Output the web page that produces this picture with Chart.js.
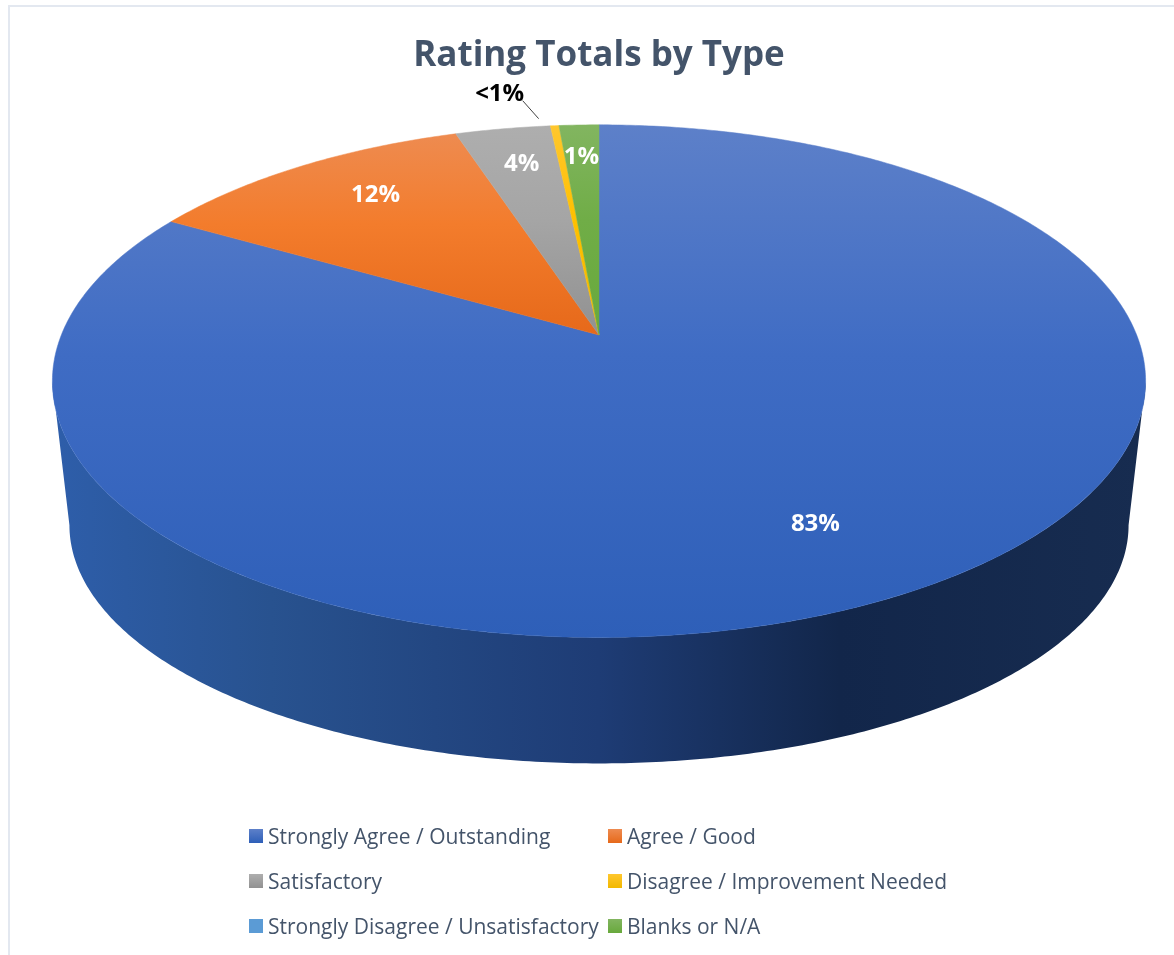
<!DOCTYPE html>
<html lang="en">
    <head>
        <meta charset="UTF-8">
        <title>Rating Totals by Type</title>
        <style>
            body { margin: 0; background: #fff; width: 1174px; height: 955px; overflow: hidden; position: relative; }
            #frame { position: absolute; left: 8px; top: 5px; right: 0; bottom: 0; border-left: 2px solid #e3e8f0; border-top: 2px solid #e3e8f0; }
            canvas { position: absolute; left: 0; top: 0; }
            #legend { position: absolute; left: 0; top: 0; font: 21px "Open Sans", sans-serif; color: #44546a; }
            .item { position: absolute; white-space: nowrap; line-height: 30px; height: 30px; }
            .item i { position: absolute; left: -19px; top: 8px; width: 14px; height: 14px; }
        </style>
    </head>
    <body>
        <div id="frame"></div>
        <canvas id="ratingChart" width="1174" height="955"></canvas>
        <div id="legend"></div>

        <script src="https://cdn.jsdelivr.net/npm/chart.js"></script>
        <script type="text/javascript" charset="utf-8">
            const categories = ['Strongly Agree / Outstanding', 'Agree / Good', 'Satisfactory',
                'Disagree / Improvement Needed', 'Strongly Disagree / Unsatisfactory', 'Blanks or N/A'];
            const ratingShares = [83.3, 11.65, 3.35, 0.3, 0, 1.4];
            const shareLabels = ['83%', '12%', '4%', '<1%', '', '1%'];
            const colorsLight = ['#5d80c9', '#ee8b50', '#aeaeae', '#ffc72e', '#5b9bd5', '#82b560'];
            const colorsMid = ['#3f6cc4', '#f37c2c', '#a5a5a5', '#ffc000', '#5b9bd5', '#70ad47'];
            const colorsDark = ['#2e5fb8', '#e6691a', '#919191', '#f2b800', '#5b9bd5', '#68a93c'];

            // the pie is seen in perspective: centre of the circle sits above centre of the ellipse
            const tilt = 0.18;
            const stretchX = 2.168;
            const rimTop = { cx: 599, cy: 381, rx: 546, ry: 256 };
            const rimBottom = { cx: 599, cy: 525, rx: 529, ry: 238 };
            // small corrections of the label spots, same order as the slices
            const labelNudge = [[-2, 15], [7, -9], [2, -1], [3, 1], [0, 0], [-1, -5]];

            function project(arc, angle, r) {
                const t = angle + Math.PI / 2; // clockwise from 12 o'clock
                const u = Math.sin(t) * r, v = Math.cos(t) * r;
                const w = 1 + tilt * v;
                return { x: arc.x + arc.outerRadius * stretchX * u / w, y: arc.y - arc.outerRadius * v / w };
            }

            function dropToBottom(p) {
                const ex = (p.x - rimTop.cx) / rimTop.rx, ey = (p.y - rimTop.cy) / rimTop.ry;
                return { x: rimBottom.cx + rimBottom.rx * ex, y: rimBottom.cy + rimBottom.ry * ey };
            }

            function rimPoints(arc, from, to) {
                const pts = [];
                const steps = Math.max(2, Math.ceil((to - from) / 0.01));
                for (let i = 0; i <= steps; i++) {
                    pts.push(project(arc, from + (to - from) * i / steps, 1));
                }
                return pts;
            }

            function drawWall(ctx, arc) {
                // only the front of the side is visible, between the two widest points of the rim
                const tangent = Math.acos(-tilt);
                const from = Math.max(arc.startAngle, -Math.PI / 2 + tangent);
                const to = Math.min(arc.endAngle, 1.5 * Math.PI - tangent);
                if (to <= from) return;
                const top = rimPoints(arc, from, to);
                const wall = ctx.createLinearGradient(rimTop.cx - rimTop.rx, 0, rimTop.cx + rimTop.rx, 0);
                wall.addColorStop(0, '#2e5eaa');
                wall.addColorStop(0.2, '#28528f');
                wall.addColorStop(0.5, '#1e3c75');
                wall.addColorStop(0.72, '#12264a');
                wall.addColorStop(1, '#172c50');
                ctx.beginPath();
                top.forEach((p, i) => i ? ctx.lineTo(p.x, p.y) : ctx.moveTo(p.x, p.y));
                top.reverse().forEach((p) => { const q = dropToBottom(p); ctx.lineTo(q.x, q.y); });
                ctx.closePath();
                ctx.fillStyle = wall;
                ctx.fill();
            }

            function drawFace(ctx, arc, index) {
                const pts = rimPoints(arc, arc.startAngle, arc.endAngle);
                const ys = pts.map((p) => p.y).concat(arc.y);
                const grad = ctx.createLinearGradient(0, Math.min(...ys), 0, Math.max(...ys));
                grad.addColorStop(0, colorsLight[index]);
                grad.addColorStop(0.45, colorsMid[index]);
                grad.addColorStop(1, colorsDark[index]);
                ctx.beginPath();
                ctx.moveTo(arc.x, arc.y);
                pts.forEach((p) => ctx.lineTo(p.x, p.y));
                ctx.closePath();
                ctx.fillStyle = grad;
                ctx.strokeStyle = grad;
                ctx.lineWidth = 0.5;
                ctx.fill();
                ctx.stroke();
            }

            function drawShareLabel(ctx, arc, index) {
                const mid = (arc.startAngle + arc.endAngle) / 2;
                ctx.font = 'bold 24px "Open Sans", sans-serif';
                ctx.textAlign = 'center';
                ctx.textBaseline = 'middle';
                if (ratingShares[index] < 1) {
                    // small slice: label outside with a leader line
                    const rim = project(arc, mid, 1);
                    ctx.strokeStyle = '#404040';
                    ctx.lineWidth = 1;
                    ctx.beginPath();
                    ctx.moveTo(rim.x - 32, rim.y - 25);
                    ctx.lineTo(rim.x - 16, rim.y - 7);
                    ctx.stroke();
                    ctx.fillStyle = '#000';
                    ctx.fillText(shareLabels[index], rim.x - 58 + labelNudge[index][0], rim.y - 33 + labelNudge[index][1]);
                } else {
                    const depth = ratingShares[index] > 50 ? 0.72 : ratingShares[index] > 10 ? 0.75 : 0.8;
                    const p = project(arc, mid, depth);
                    ctx.fillStyle = '#fff';
                    ctx.fillText(shareLabels[index], p.x + labelNudge[index][0], p.y + labelNudge[index][1]);
                }
            }

            const pie3d = {
                id: 'pie3d',
                beforeDatasetsDraw(chart) {
                    const ctx = chart.ctx;
                    const arcs = chart.getDatasetMeta(0).data;
                    ctx.save();
                    arcs.forEach((arc) => { if (arc.circumference > 0) drawWall(ctx, arc); });
                    arcs.forEach((arc, i) => { if (arc.circumference > 0) drawFace(ctx, arc, i); });
                    arcs.forEach((arc, i) => { if (arc.circumference > 0) drawShareLabel(ctx, arc, i); });
                    ctx.restore();
                    return false;
                }
            };

            new Chart(document.getElementById('ratingChart'), {
                type: 'pie',
                data: {
                    labels: categories,
                    datasets: [{ data: ratingShares, backgroundColor: colorsMid, borderWidth: 0 }]
                },
                options: {
                    responsive: false,
                    animation: false,
                    layout: { padding: { left: 53, right: 29, top: 0, bottom: 372 } },
                    plugins: {
                        legend: { display: false },
                        tooltip: { enabled: false },
                        title: {
                            display: true,
                            text: 'Rating Totals by Type',
                            color: '#44546a',
                            font: { family: '"Open Sans", sans-serif', size: 35, weight: 'bold' },
                            padding: { top: 35, bottom: 10 }
                        }
                    }
                },
                plugins: [pie3d]
            });

            // legend, two columns
            const legend = document.getElementById('legend');
            categories.forEach((name, i) => {
                const item = document.createElement('div');
                item.className = 'item';
                item.style.left = (i % 2 ? 627 : 268) + 'px';
                item.style.top = (821 + 45 * Math.floor(i / 2)) + 'px';
                item.textContent = name;
                const box = document.createElement('i');
                box.style.background = 'linear-gradient(' + colorsLight[i] + ',' + colorsDark[i] + ')';
                item.prepend(box);
                legend.appendChild(item);
            });
        </script>
    </body>
</html>
